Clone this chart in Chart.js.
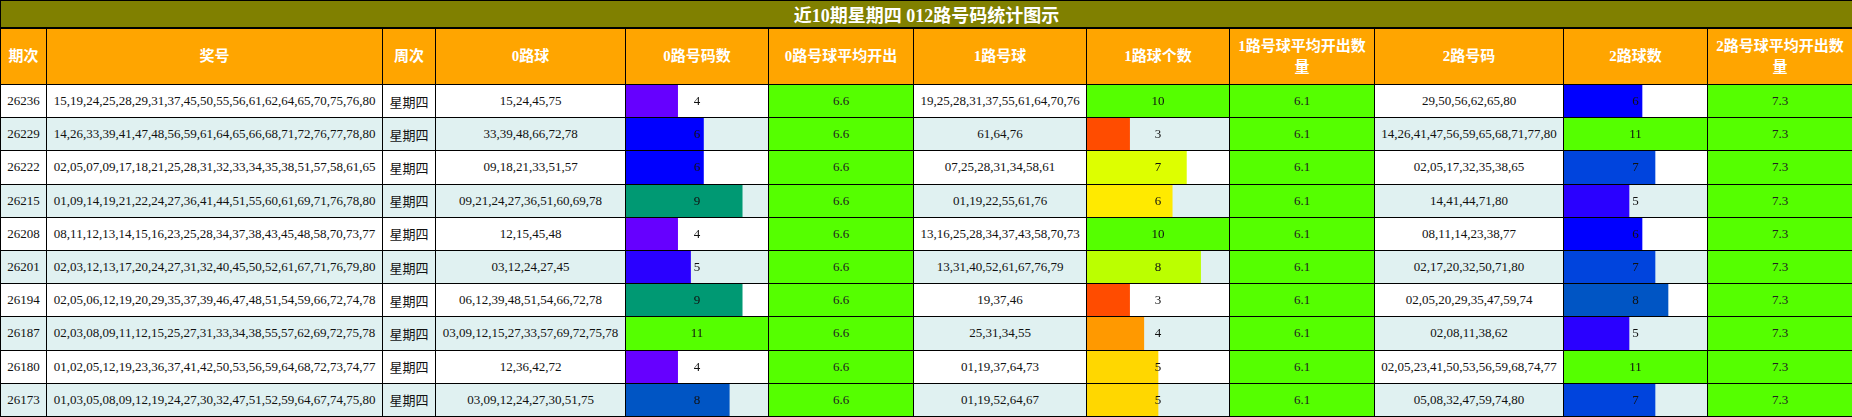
<!DOCTYPE html>
<html>
<head>
<meta charset="utf-8">
<script src="https://cdn.jsdelivr.net/npm/chart.js@4"></script>
<style>
  body { margin: 0; background: #fff; }
  table {
    border-collapse: collapse;
    table-layout: fixed;
    width: 1852px;
    font-family: "Liberation Serif", "Noto Sans CJK SC", serif;
    font-size: 13px;
    color: #111;
  }
  td, th { border: 1px solid #000; padding: 0 3px; text-align: center; overflow: hidden; }
  .title td {
    background: #808000; color: #fff; font-weight: bold; font-size: 18px;
    height: 26px; border-bottom: 2px solid #000;
  }
  .head th {
    background: #ffa500; color: #fff; font-weight: bold; font-size: 15px;
    height: 55px; line-height: 21px;
  }
  tbody tr td { height: 32.2px; }
  tbody tr.alt td { background: #e0f1f1; }
  tbody tr td.avg { background: #55ff00; color: #222; }
  td.wk { font-family: "Noto Sans CJK SC", sans-serif; }
  td.bar { position: relative; padding: 0; }
  td.bar .box { position: absolute; left: 0; top: 0; right: 0; bottom: 0; }
  td.bar span { position: relative; z-index: 2; }
</style>
</head>
<body>
<table id="tbl">
  <colgroup>
    <col style="width:46px"><col style="width:336px"><col style="width:53px"><col style="width:190px">
    <col style="width:143px"><col style="width:145px"><col style="width:173px"><col style="width:143px">
    <col style="width:145px"><col style="width:189px"><col style="width:144px"><col style="width:145px">
  </colgroup>
  <thead>
    <tr class="title"><td colspan="12" id="title"></td></tr>
    <tr class="head" id="head"></tr>
  </thead>
  <tbody id="body"></tbody>
</table>
<script>
var titleText = "近10期星期四 012路号码统计图示";
var headers = ["期次", "奖号", "周次", "0路球", "0路号码数", "0路号球平均开出", "1路号球", "1路球个数",
    "1路号球平均开出数量", "2路号码", "2路球数", "2路号球平均开出数量"];

var periods = ["26236", "26229", "26222", "26215", "26208", "26201", "26194", "26187", "26180", "26173"];
var weekday = "星期四";
var draws = [
    "15,19,24,25,28,29,31,37,45,50,55,56,61,62,64,65,70,75,76,80",
    "14,26,33,39,41,47,48,56,59,61,64,65,66,68,71,72,76,77,78,80",
    "02,05,07,09,17,18,21,25,28,31,32,33,34,35,38,51,57,58,61,65",
    "01,09,14,19,21,22,24,27,36,41,44,51,55,60,61,69,71,76,78,80",
    "08,11,12,13,14,15,16,23,25,28,34,37,38,43,45,48,58,70,73,77",
    "02,03,12,13,17,20,24,27,31,32,40,45,50,52,61,67,71,76,79,80",
    "02,05,06,12,19,20,29,35,37,39,46,47,48,51,54,59,66,72,74,78",
    "02,03,08,09,11,12,15,25,27,31,33,34,38,55,57,62,69,72,75,78",
    "01,02,05,12,19,23,36,37,41,42,50,53,56,59,64,68,72,73,74,77",
    "01,03,05,08,09,12,19,24,27,30,32,47,51,52,59,64,67,74,75,80"
];
var zeroBalls = ["15,24,45,75", "33,39,48,66,72,78", "09,18,21,33,51,57", "09,21,24,27,36,51,60,69,78",
    "12,15,45,48", "03,12,24,27,45", "06,12,39,48,51,54,66,72,78", "03,09,12,15,27,33,57,69,72,75,78",
    "12,36,42,72", "03,09,12,24,27,30,51,75"];
var zeroCount = [4, 6, 6, 9, 4, 5, 9, 11, 4, 8];
var zeroAvg = 6.6;
var oneBalls = ["19,25,28,31,37,55,61,64,70,76", "61,64,76", "07,25,28,31,34,58,61", "01,19,22,55,61,76",
    "13,16,25,28,34,37,43,58,70,73", "13,31,40,52,61,67,76,79", "19,37,46", "25,31,34,55",
    "01,19,37,64,73", "01,19,52,64,67"];
var oneCount = [10, 3, 7, 6, 10, 8, 3, 4, 5, 5];
var oneAvg = 6.1;
var twoBalls = ["29,50,56,62,65,80", "14,26,41,47,56,59,65,68,71,77,80", "02,05,17,32,35,38,65", "14,41,44,71,80",
    "08,11,14,23,38,77", "02,17,20,32,50,71,80", "02,05,20,29,35,47,59,74", "02,08,11,38,62",
    "02,05,23,41,50,53,56,59,68,74,77", "05,08,32,47,59,74,80"];
var twoCount = [6, 11, 7, 5, 6, 7, 8, 5, 11, 7];
var twoAvg = 7.3;

// bar colours by count
var coolColors = { 4: "#6600ff", 5: "#2a00ff", 6: "#0000ff", 7: "#0044dd", 8: "#0055c4", 9: "#009973", 11: "#55ff00" };
var warmColors = { 3: "#ff4c00", 4: "#ff9900", 5: "#ffd700", 6: "#ffea00", 7: "#ddff00", 8: "#bbff00", 10: "#55ff00" };

document.getElementById("title").textContent = titleText;
var head = document.getElementById("head");
headers.forEach(function (h) {
    var th = document.createElement("th");
    th.textContent = h;
    head.appendChild(th);
});

var bars = [];
var body = document.getElementById("body");

function cell(tr, text, cls) {
    var td = document.createElement("td");
    td.textContent = text;
    if (cls) td.className = cls;
    tr.appendChild(td);
    return td;
}

function barCell(tr, value, max, colors) {
    var td = document.createElement("td");
    td.className = "bar";
    var box = document.createElement("div");
    box.className = "box";
    var cv = document.createElement("canvas");
    box.appendChild(cv);
    td.appendChild(box);
    var sp = document.createElement("span");
    sp.textContent = value;
    td.appendChild(sp);
    tr.appendChild(td);
    bars.push({ canvas: cv, value: value, max: max, color: colors[value] });
}

for (var i = 0; i < periods.length; i++) {
    var tr = document.createElement("tr");
    if (i % 2 == 1) tr.className = "alt";
    cell(tr, periods[i]);
    cell(tr, draws[i]);
    cell(tr, weekday, "wk");
    cell(tr, zeroBalls[i]);
    barCell(tr, zeroCount[i], 11, coolColors);
    cell(tr, zeroAvg.toFixed(1), "avg");
    cell(tr, oneBalls[i]);
    barCell(tr, oneCount[i], 10, warmColors);
    cell(tr, oneAvg.toFixed(1), "avg");
    cell(tr, twoBalls[i]);
    barCell(tr, twoCount[i], 11, coolColors);
    cell(tr, twoAvg.toFixed(1), "avg");
    body.appendChild(tr);
}

bars.forEach(function (b) {
    new Chart(b.canvas, {
        type: "bar",
        data: {
            labels: [""],
            datasets: [{
                data: [b.value],
                backgroundColor: b.color,
                borderWidth: 0,
                barPercentage: 1,
                categoryPercentage: 1
            }]
        },
        options: {
            indexAxis: "y",
            responsive: true,
            maintainAspectRatio: false,
            animation: false,
            layout: { padding: 0 },
            scales: {
                x: { display: false, min: 0, max: b.max },
                y: { display: false }
            },
            plugins: { legend: { display: false }, tooltip: { enabled: false } }
        }
    });
});
</script>
</body>
</html>
